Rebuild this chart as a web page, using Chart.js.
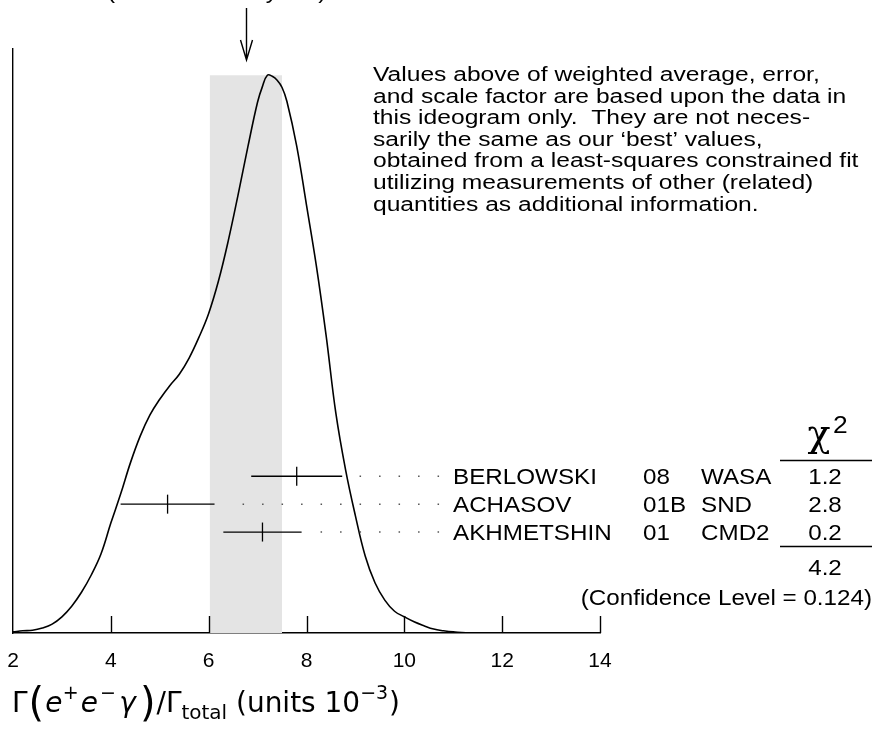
<!DOCTYPE html>
<html>
<head>
<meta charset="utf-8">
<script src="https://cdn.jsdelivr.net/npm/chart.js@4"></script>
<style>
  body { margin: 0; background: #fff; }
  #wrap { width: 872px; height: 738px; position: relative; }
</style>
</head>
<body>
<div id="wrap"><canvas id="graph"></canvas></div>
<script>
// ideogram curve (relative height, peak = 1)
const curveX = [2.0, 2.2, 2.4, 2.6, 2.8, 3.0, 3.2, 3.4, 3.6, 3.8, 4.0, 4.2, 4.4, 4.6, 4.8, 5.0,
                5.2, 5.4, 5.6, 5.8, 6.0, 6.2, 6.4, 6.6, 6.8, 7.0, 7.1, 7.2, 7.3, 7.4, 7.5, 7.6,
                7.8, 8.0, 8.2, 8.4, 8.6, 8.8, 9.0, 9.2, 9.4, 9.6, 9.8, 10.0, 10.2, 10.4, 10.6,
                10.8, 11.0, 11.4, 14.0];
const curveY = [0.002, 0.004, 0.005, 0.009, 0.016, 0.029, 0.048, 0.073, 0.104, 0.142, 0.197, 0.249, 0.305, 0.353, 0.391, 0.419,
                0.443, 0.464, 0.493, 0.530, 0.573, 0.631, 0.703, 0.785, 0.871, 0.952, 0.980, 1.0, 0.998, 0.991, 0.978, 0.953,
                0.873, 0.767, 0.659, 0.534, 0.394, 0.292, 0.210, 0.138, 0.090, 0.059, 0.039, 0.029, 0.020, 0.013, 0.007,
                0.004, 0.002, 0, 0];

// measurements
const names = ["BERLOWSKI", "ACHASOV", "AKHMETSHIN"];
const years = ["08", "01B", "01"];
const experiments = ["WASA", "SND", "CMD2"];
const values = [7.80, 5.16, 7.10];
const errors = [0.93, 0.96, 0.80];
const chi2 = ["1.2", "2.8", "0.2"];
const chi2Total = "4.2";
const confLevel = "0.124";

// weighted average and scaled error
const average = 6.76;
const avgError = 0.74;
const avgText = "6.8\u00b10.7";
const scaleFactor = "1.4";

const noteLines = [
    "Values above of weighted average, error,",
    "and scale factor are based upon the data in",
    "this ideogram only.  They are not neces-",
    "sarily the same as our \u2018best\u2019 values,",
    "obtained from a least-squares constrained fit",
    "utilizing measurements of other (related)",
    "quantities as additional information."
];

// where the rows of the ideogram sit (in y units)
const rowLevels = [0.281, 0.231, 0.181];
const dotsEnd = 10.71;

const FONT = '"Liberation Sans", Arial, sans-serif';

function txt(ctx, s, x, y, size, sx, align) {
    ctx.save();
    ctx.font = size + "px " + FONT;
    ctx.translate(x, y);
    ctx.scale(sx, 1);
    ctx.textAlign = align || "left";
    ctx.textBaseline = "alphabetic";
    ctx.fillStyle = "#000";
    ctx.fillText(s, 0, 0);
    ctx.restore();
}

const datasets = [];

datasets.push({
    data: [{x: average - avgError, y: Math.max(...curveY)}, {x: average + avgError, y: Math.max(...curveY)}],
    fill: "origin",
    backgroundColor: "#e4e4e4",
    borderWidth: 0,
    pointRadius: 0,
    order: 10
});

datasets.push({
    data: curveX.map((x, i) => ({x: x, y: curveY[i]})),
    borderColor: "#000",
    borderWidth: 1.6,
    pointRadius: 0,
    tension: 0.4,
    fill: false,
    order: 5
});

values.forEach((v, i) => {
    const e = errors[i];
    datasets.push({
        data: [{x: v - e, y: rowLevels[i]}, {x: v, y: rowLevels[i]}, {x: v + e, y: rowLevels[i]}],
        borderColor: "#000",
        borderWidth: 1.3,
        pointStyle: "line",
        rotation: 90,
        pointRadius: [0, 9.5, 0],
        pointBorderWidth: 1.3,
        pointBorderColor: "#000",
        fill: false,
        order: 1
    });
    datasets.push({
        data: [{x: dotsEnd, y: rowLevels[i]}, {x: v + e + 0.25, y: rowLevels[i]}],
        borderColor: "#555",
        borderWidth: 1.5,
        borderDash: [1.5, 18],
        pointRadius: 0,
        fill: false,
        order: 2
    });
});

const extras = {
    id: "extras",
    afterDraw(chart) {
        const ctx = chart.ctx;
        const xs = chart.scales.x;
        const ys = chart.scales.y;
        const base = ys.getPixelForValue(0);

        ctx.save();
        ctx.strokeStyle = "#000";
        ctx.lineWidth = 1.4;
        // inward tick marks
        xs.ticks.forEach(t => {
            if (t.value === xs.min) return;
            const px = Math.round(xs.getPixelForValue(t.value)) + 0.5;
            ctx.beginPath();
            ctx.moveTo(px, base);
            ctx.lineTo(px, base - 17);
            ctx.stroke();
        });

        // arrow at weighted average
        const ax = Math.round(xs.getPixelForValue(average)) + 0.5;
        ctx.beginPath();
        ctx.moveTo(ax, 8);
        ctx.lineTo(ax, 60);
        ctx.moveTo(ax - 6, 40);
        ctx.lineTo(ax, 60);
        ctx.lineTo(ax + 6, 40);
        ctx.stroke();

        // chi2 rules
        ctx.beginPath();
        ctx.moveTo(780, 460.5);
        ctx.lineTo(872, 460.5);
        ctx.moveTo(780, 546.5);
        ctx.lineTo(872, 546.5);
        ctx.stroke();
        ctx.restore();

        // average text, mostly cut off at the top
        ctx.save();
        ctx.font = "22px " + FONT;
        const pre = ctx.measureText(avgText + " ").width * 1.1;
        ctx.restore();
        txt(ctx, "WEIGHTED AVERAGE", 107 - pre, -30, 22, 1.1);
        txt(ctx, avgText + " (Error scaled by " + scaleFactor + ")", 107 - pre, -2.5, 22, 1.1);

        // note
        noteLines.forEach((s, i) => txt(ctx, s, 373, 81 + i * 21.6, 20, 1.23));

        // rows
        names.forEach((n, i) => {
            const y = ys.getPixelForValue(rowLevels[i]) + 8;
            txt(ctx, n, 453, y, 22, 1.1);
            txt(ctx, years[i], 643, y, 22, 1.1);
            txt(ctx, experiments[i], 701, y, 22, 1.1);
            txt(ctx, chi2[i], 825, y, 22, 1.1, "center");
        });
        txt(ctx, chi2Total, 825, 575, 22, 1.1, "center");
        txt(ctx, "(Confidence Level = " + confLevel + ")", 872, 605, 22, 1.1, "right");

        // chi2 header
        ctx.save();
        ctx.font = "38px \"DejaVu Serif\"";
        ctx.fillStyle = "#000";
        ctx.textAlign = "center";
        ctx.fillText("\u03c7", 819, 446);
        ctx.restore();
        txt(ctx, "2", 833, 433, 24, 1.1);

        // axis title
        const pieces = [
            {t: "\u0393", s: 28},
            {t: "(", s: 40, dy: 4, pad: 2},
            {t: "e", s: 28, it: true},
            {t: "+", s: 19, dy: -13, pad: 1},
            {t: "e", s: 28, it: true, pad: 3},
            {t: "\u2212", s: 19, dy: -13, pad: 1},
            {t: "\u03b3", s: 28, it: true, pad: 6},
            {t: ")", s: 40, dy: 4, pad: 2},
            {t: "/", s: 28},
            {t: "\u0393", s: 28},
            {t: "total", s: 20, dy: 7},
            {t: " (units 10", s: 28},
            {t: "\u2212", s: 19, dy: -13},
            {t: "3", s: 19, dy: -13},
            {t: ")", s: 28, pad: 2}
        ];
        ctx.save();
        let total = 0;
        pieces.forEach(p => {
            ctx.font = (p.it ? "italic " : "") + p.s + "px \"DejaVu Sans\"";
            p.w = ctx.measureText(p.t).width;
            total += p.w + (p.pad || 0);
        });
        const sx = 389 / total;
        ctx.translate(12, 712);
        ctx.scale(sx, 1);
        ctx.fillStyle = "#000";
        let cx = 0;
        pieces.forEach(p => {
            ctx.font = (p.it ? "italic " : "") + p.s + "px \"DejaVu Sans\"";
            if (p.pad) cx += p.pad / 2;
            ctx.fillText(p.t, cx, p.dy || 0);
            cx += p.w + (p.pad ? p.pad / 2 : 0);
        });
        ctx.restore();
    }
};

Chart.defaults.font.family = FONT;

const graph = document.getElementById("graph").getContext("2d");

let myChart = new Chart(graph, {
    type: "line",
    data: { datasets: datasets },
    options: {
        responsive: true,
        maintainAspectRatio: false,
        animation: false,
        events: [],
        layout: {
            padding: { left: 13, right: 272, top: 49, bottom: 0 }
        },
        plugins: {
            legend: { display: false },
            tooltip: { enabled: false }
        },
        scales: {
            x: {
                type: "linear",
                min: 2,
                max: 14,
                grid: { display: true, drawOnChartArea: false, drawTicks: true, tickLength: 16, color: "rgba(0,0,0,0)" },
                border: { display: true, color: "#000", width: 1.4 },
                ticks: {
                    stepSize: 2,
                    padding: 0,
                    color: "#000",
                    font: { size: 21 },
                    maxRotation: 0
                },
                afterFit(s) { s.height = 105; }
            },
            y: {
                min: 0,
                max: 1.047,
                grid: { display: false, drawTicks: false },
                border: { display: true, color: "#000", width: 1.4 },
                ticks: { display: false },
                afterFit(s) { s.width = 0; }
            }
        }
    },
    plugins: [extras]
});
</script>
</body>
</html>
